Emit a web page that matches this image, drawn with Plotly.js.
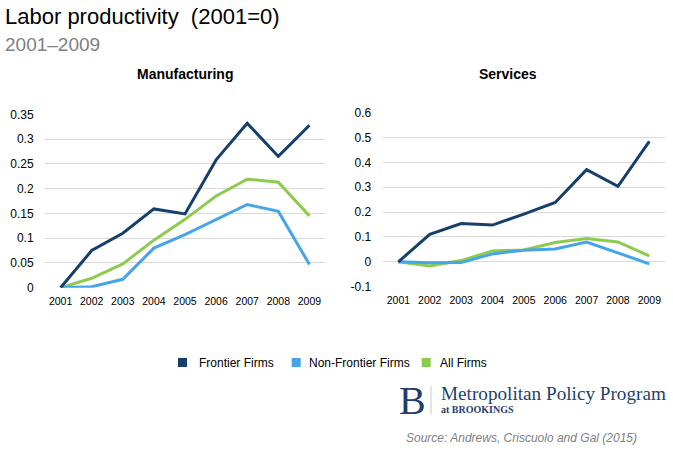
<!DOCTYPE html>
<html>
<head>
<meta charset="utf-8">
<script src="https://cdn.plot.ly/plotly-3.0.1.min.js"></script>
<style>html,body{margin:0;padding:0;background:#fff;}#chart{width:673px;height:454px;}</style>
</head>
<body>
<div id="chart"></div>
<script>
var years = [2001, 2002, 2003, 2004, 2005, 2006, 2007, 2008, 2009];
var seriesNames = ["Frontier Firms", "Non-Frontier Firms", "All Firms"];
var seriesColors = ["#173f6b", "#45a5e8", "#8dcb4e"];

var mfgFrontier    = [0, 0.075, 0.110, 0.159, 0.149, 0.258, 0.332, 0.265, 0.328];
var mfgNonFrontier = [0, 0.002, 0.017, 0.080, 0.107, 0.137, 0.168, 0.154, 0.047];
var mfgAll         = [0, 0.019, 0.048, 0.096, 0.138, 0.185, 0.219, 0.213, 0.145];

var svcFrontier    = [0, 0.111, 0.154, 0.148, 0.192, 0.239, 0.371, 0.304, 0.485];
var svcNonFrontier = [0, -0.004, -0.003, 0.032, 0.047, 0.052, 0.080, 0.036, -0.008];
var svcAll         = [0, -0.017, 0.005, 0.044, 0.048, 0.078, 0.094, 0.080, 0.024];

var mfgTicks = [0, 0.05, 0.1, 0.15, 0.2, 0.25, 0.3, 0.35];
var mfgTickText = ["0", "0.05", "0.1", "0.15", "0.2", "0.25", "0.3", "0.35"];
var svcTicks = [-0.1, 0, 0.1, 0.2, 0.3, 0.4, 0.5, 0.6];
var svcTickText = ["-0.1", "0", "0.1", "0.2", "0.3", "0.4", "0.5", "0.6"];

var W = 673, H = 454;
function px(x) { return x / W; }
function py(y) { return 1 - y / H; }

var mfg = [mfgFrontier, mfgNonFrontier, mfgAll];
var svc = [svcFrontier, svcNonFrontier, svcAll];
var traces = [];
// draw order: All Firms, Non-Frontier, Frontier (frontier on top)
[2, 1, 0].forEach(function (i) {
  traces.push({x: years, y: mfg[i], type: "scatter", mode: "lines", name: seriesNames[i],
    line: {color: seriesColors[i], width: 3}, xaxis: "x", yaxis: "y", showlegend: false, hoverinfo: "x+y"});
  traces.push({x: years, y: svc[i], type: "scatter", mode: "lines", name: seriesNames[i],
    line: {color: seriesColors[i], width: 3}, xaxis: "x2", yaxis: "y2", showlegend: false, hoverinfo: "x+y"});
});

var tickFontY = {family: "Liberation Sans, Arial, sans-serif", size: 12, color: "#000"};
var tickFontX = {family: "Liberation Sans, Arial, sans-serif", size: 10.5, color: "#000"};

function xAxis(domain, anchor) {
  return {domain: domain, anchor: anchor, range: [2000.5, 2009.5], tickvals: years,
    ticktext: years.map(String), tickfont: tickFontX, showgrid: false, zeroline: false,
    showline: false, ticks: "outside", ticklen: 4, tickcolor: "rgba(0,0,0,0)", fixedrange: true};
}
function yAxis(domain, anchor, range, tv, tt) {
  return {domain: domain, anchor: anchor, range: range, tickvals: tv, ticktext: tt,
    tickfont: tickFontY, showgrid: true, gridcolor: "#d9d9d9", gridwidth: 1, zeroline: false,
    showline: false, ticks: "outside", ticklen: 8, tickcolor: "rgba(0,0,0,0)", fixedrange: true};
}

// legend (squares + labels), built from the series arrays
var legendSquareX = [178, 291.7, 421.7];
var legendTextX = [197.3, 306.7, 438];
var legendY = 362.5;
var legendShapes = seriesNames.map(function (n, i) {
  return {type: "rect", xref: "paper", yref: "paper",
    x0: px(legendSquareX[i]), x1: px(legendSquareX[i] + 9), y0: py(legendY - 4.5), y1: py(legendY + 4.5),
    fillcolor: seriesColors[i], line: {width: 0}};
});
var legendAnns = seriesNames.map(function (n, i) {
  return {text: n, x: px(legendTextX[i]), y: py(legendY), xref: "paper", yref: "paper",
    xanchor: "left", yanchor: "middle", showarrow: false,
    font: {family: "Liberation Sans, Arial, sans-serif", size: 12, color: "#000"}};
});

var layout = {
  width: W, height: H,
  margin: {l: 0, r: 0, t: 0, b: 0},
  paper_bgcolor: "#fff", plot_bgcolor: "#fff",
  font: {family: "Liberation Sans, Arial, sans-serif", color: "#000"},
  xaxis: xAxis([px(45), px(325)], "y"),
  yaxis: yAxis([py(287.7), py(114.3)], "x", [0, 0.35], mfgTicks, mfgTickText),
  xaxis2: xAxis([px(382.7), px(665)], "y2"),
  yaxis2: yAxis([py(286.7), py(112.7)], "x2", [-0.1, 0.6], svcTicks, svcTickText),
  showlegend: false,
  annotations: [
    {text: "Labor productivity  (2001=0)", x: px(3), y: py(31), xref: "paper", yref: "paper",
      xanchor: "left", yanchor: "bottom", showarrow: false,
      font: {family: "Liberation Sans, Arial, sans-serif", size: 22, color: "#000"}},
    {text: "2001–2009", x: px(3), y: py(57), xref: "paper", yref: "paper",
      xanchor: "left", yanchor: "bottom", showarrow: false,
      font: {family: "Liberation Sans, Arial, sans-serif", size: 19, color: "#808080"}},
    {text: "<b>Manufacturing</b>", x: px(185), y: py(74), xref: "paper", yref: "paper",
      xanchor: "center", yanchor: "middle", showarrow: false,
      font: {family: "Liberation Sans, Arial, sans-serif", size: 14, color: "#000"}},
    {text: "<b>Services</b>", x: px(508), y: py(74), xref: "paper", yref: "paper",
      xanchor: "center", yanchor: "middle", showarrow: false,
      font: {family: "Liberation Sans, Arial, sans-serif", size: 14, color: "#000"}},
    {text: "B", x: px(397), y: py(400), xref: "paper", yref: "paper",
      xanchor: "left", yanchor: "middle", showarrow: false,
      font: {family: "Liberation Serif, Times New Roman, serif", size: 40, color: "#1f3f6e"}},
    {text: "Metropolitan Policy Program", x: px(439), y: py(393), xref: "paper", yref: "paper",
      xanchor: "left", yanchor: "middle", showarrow: false,
      font: {family: "Liberation Serif, Times New Roman, serif", size: 19.2, color: "#1f3f6e"}},
    {text: "<b>at BROOKINGS</b>", x: px(439), y: py(409.5), xref: "paper", yref: "paper",
      xanchor: "left", yanchor: "middle", showarrow: false,
      font: {family: "Liberation Serif, Times New Roman, serif", size: 10, color: "#1f3f6e"}},
    {text: "<i>Source: Andrews, Criscuolo and Gal (2015)</i>", x: px(404), y: py(438), xref: "paper", yref: "paper",
      xanchor: "left", yanchor: "middle", showarrow: false,
      font: {family: "Liberation Sans, Arial, sans-serif", size: 12, color: "#7f7f7f"}}
  ].concat(legendAnns),
  shapes: [
    {type: "line", xref: "paper", yref: "paper", x0: px(431), x1: px(431), y0: py(386), y1: py(414),
      line: {color: "#c8c8c8", width: 1}}
  ].concat(legendShapes)
};

Plotly.newPlot("chart", traces, layout, {displayModeBar: false, staticPlot: true});
</script>
</body>
</html>
